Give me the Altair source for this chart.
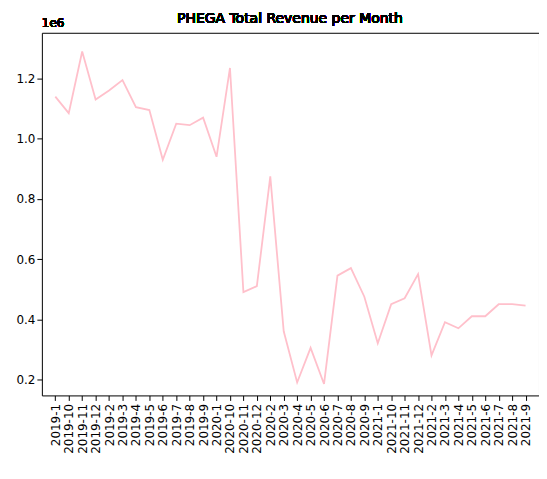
import altair as alt
import pandas as pd

months = [f"{y}-{m}" for y in (2019, 2020, 2021) for m in (1, 10, 11, 12, 2, 3, 4, 5, 6, 7, 8, 9)]
revenue = [1.14, 1.085, 1.29, 1.13, 1.16, 1.195, 1.105, 1.095, 0.93, 1.05, 1.045, 1.07,
           0.94, 1.235, 0.49, 0.51, 0.875, 0.36, 0.19, 0.305, 0.185, 0.545, 0.57, 0.475,
           0.32, 0.45, 0.47, 0.55, 0.28, 0.39, 0.37, 0.41, 0.41, 0.45, 0.45, 0.445]

df = pd.DataFrame({"Month": months, "Revenue": revenue})

line = alt.Chart(df).mark_line(color="pink", strokeWidth=1.8).encode(
    x=alt.X("Month:N", sort=None, title=None,
            scale=alt.Scale(type="point", padding=1.75),
            axis=alt.Axis(labelAngle=-90, labelFontSize=12, labelColor="black",
                          tickColor="black", domain=False, labelPadding=3)),
    y=alt.Y("Revenue:Q", title=None,
            scale=alt.Scale(domain=[0.147, 1.352], nice=False, zero=False),
            axis=alt.Axis(values=[0.2, 0.4, 0.6, 0.8, 1.0, 1.2], format=".1f",
                          labelFontSize=12, labelColor="black", tickColor="black",
                          grid=False, domain=False)),
)

exp = alt.Chart(df).mark_text(align="left", fontSize=12, font="DejaVu Sans",
                              fontWeight="normal").encode(
    x=alt.value(0), y=alt.value(-10), text=alt.value("1e6"))

title = alt.Chart(df).mark_text(align="center", fontSize=14, font="DejaVu Sans",
                                fontWeight="normal").encode(
    x=alt.value(249), y=alt.value(-14), text=alt.value("PHEGA Total Revenue per Month"))

chart = (line + exp + title).properties(
    width=499, height=364,
    autosize=alt.AutoSizeParams(type="none"),
    padding={"left": 34, "top": 24, "right": 0, "bottom": 75},
).configure_view(stroke="black", strokeWidth=1).configure_axis(labelFont="DejaVu Sans")

chart.save("out.html", embed_options={"renderer": "svg", "actions": False})
